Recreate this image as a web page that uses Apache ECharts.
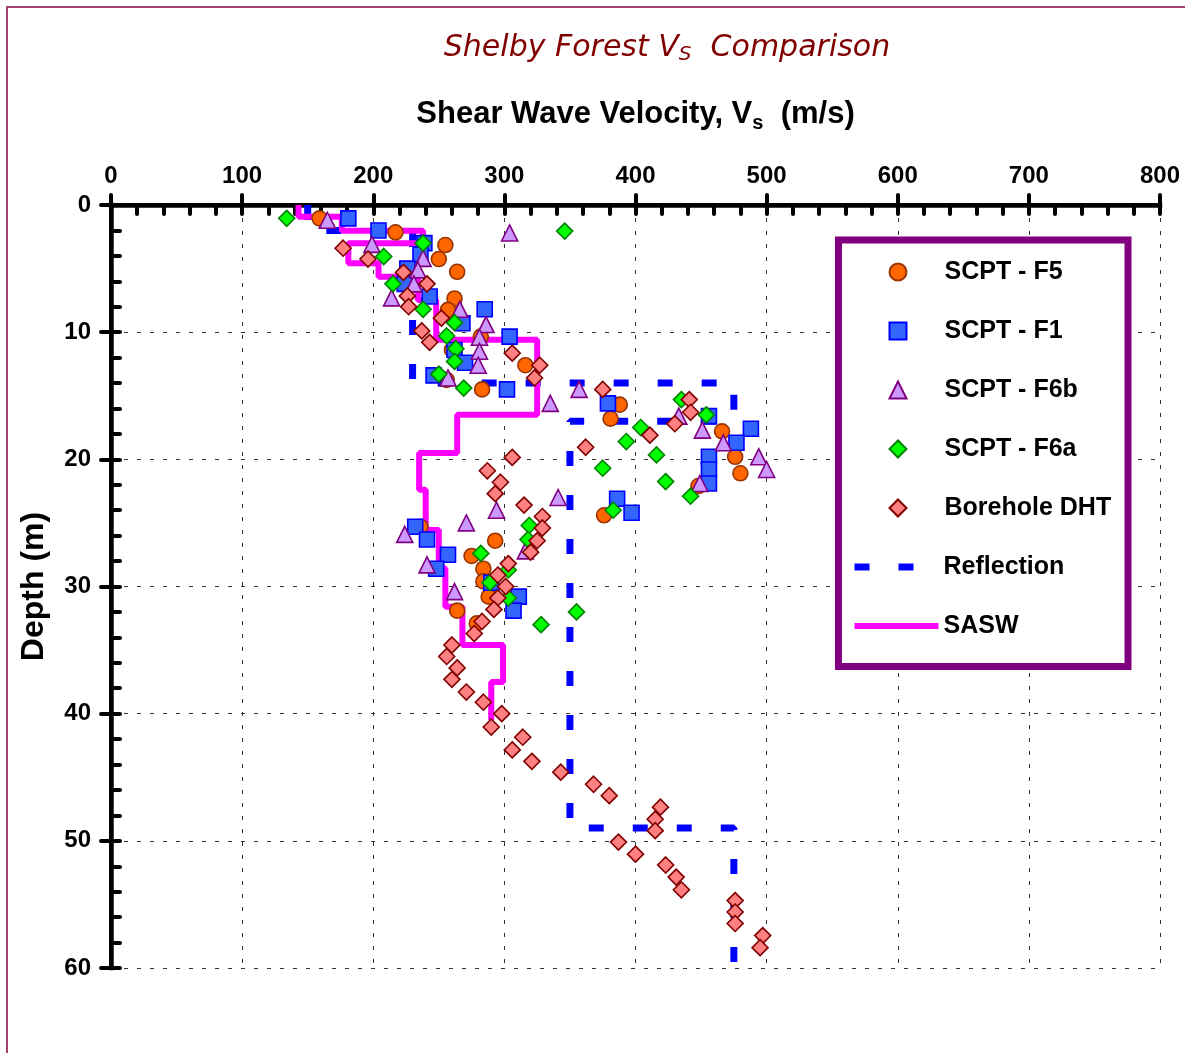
<!DOCTYPE html>
<html><head><meta charset="utf-8">
<script src="https://cdn.jsdelivr.net/npm/echarts@6/dist/echarts.min.js"></script>
<style>html,body{margin:0;padding:0;background:#fff}#c{width:1185px;height:1053px}</style>
</head><body><div id="c"></div>
<script>
// ---- tick labels ----
const velocityTicks = [0, 100, 200, 300, 400, 500, 600, 700, 800];
const depthTicks = [0, 10, 20, 30, 40, 50, 60];

// ---- series names ----
const seriesNames = ['SCPT - F5', 'SCPT - F1', 'SCPT - F6b', 'SCPT - F6a', 'Borehole DHT', 'Reflection', 'SASW'];

// ---- SCPT - F5 ----
const f5Vs = [159,217,255,250,264,262,257,266,282,260,316,256,283,388,381,466,476,480,448,376,236,293,275,284,284,288,264,279];
const f5Depth = [1.05,2.15,3.15,4.25,5.25,7.35,8.25,9.3,10.35,11.4,12.6,13.75,14.5,15.7,16.8,17.8,19.8,21.1,22.1,24.4,25.3,26.4,27.6,28.6,29.6,30.8,31.9,32.9];

// ---- SCPT - F1 ----
const f1Vs = [181,204,239,236,226,224,243,285,268,304,262,270,246,302,379,456,488,477,456,456,456,386,397,232,241,257,248,290,311,307];
const f1Depth = [1.05,2.0,3.0,3.9,5.0,6.2,7.2,8.2,9.3,10.35,11.4,12.4,13.4,14.5,15.6,16.6,17.6,18.7,19.8,20.8,21.9,23.1,24.2,25.3,26.3,27.5,28.6,29.7,30.8,31.9];

// ---- SCPT - F6b ----
const f6bVs = [165,304,199,238,234,231,214,266,286,281,281,280,257,357,335,433,451,467,494,500,449,341,294,271,224,316,241,262];
const f6bDepth = [1.2,2.2,3.1,4.2,5.1,6.2,7.3,8.2,9.4,10.4,11.5,12.6,13.6,14.5,15.6,16.6,17.7,18.7,19.8,20.8,21.9,23.0,24.0,25.0,25.9,27.2,28.3,30.4];

// ---- SCPT - F6a ----
const f6aVs = [134,346,238,208,215,238,262,256,263,262,250,269,435,454,404,393,416,375,423,442,383,319,318,282,303,289,303,355,328];
const f6aDepth = [1.05,2.05,3.0,4.05,6.2,8.2,9.25,10.3,11.3,12.3,13.3,14.4,15.3,16.5,17.5,18.6,19.65,20.7,21.75,22.9,24.0,25.2,26.3,27.4,28.7,29.7,30.9,32.0,33.0];

// ---- Borehole DHT ----
const dhtVs = [177,196,223,241,226,227,252,237,243,306,327,323,375,441,442,430,411,362,306,287,297,293,315,329,329,325,320,303,295,301,295,292,283,277,260,256,264,260,271,284,298,290,314,306,321,343,368,380,419,415,415,387,400,423,431,435,476,476,476,497,495];
const dhtDepth = [3.4,4.25,5.3,6.2,7.15,8.0,8.9,9.9,10.8,11.65,12.6,13.6,14.5,15.3,16.3,17.2,18.1,19.05,19.85,20.9,21.8,22.7,23.6,24.5,25.4,26.4,27.3,28.2,29.1,30.0,30.9,31.8,32.75,33.7,34.6,35.5,36.4,37.3,38.3,39.1,40.0,41.05,41.85,42.85,43.75,44.6,45.55,46.45,47.35,48.3,49.2,50.1,51.05,51.9,52.85,53.85,54.7,55.6,56.5,57.45,58.4];

// ---- Reflection profile (vertices) ----
const reflVs = [150,150,230,230,475,475,350,350,475,475];
const reflDepth = [0,2,2,14,14,17,17,49,49,60];

// ---- SASW profile (vertices) ----
const saswVs = [143,143,176,176,238,238,181,181,204,204,234,234,248,248,325,325,264,264,235,235,240,240,250,250,255,255,268,268,299,299,290,290];
const saswDepth = [0,0.92,0.92,2.02,2.02,3.01,3.01,4.58,4.58,5.64,5.64,7.47,7.47,10.6,10.6,16.5,16.5,19.5,19.5,22.4,22.4,25.55,25.55,28.56,28.56,31.6,31.6,34.6,34.6,37.5,37.5,40.5];

const pair = (xs, ys) => xs.map((v, i) => [v, ys[i]]);

const FONT = "'Liberation Sans', Arial, sans-serif";
const TFONT = "'DejaVu Sans', Verdana, sans-serif";
const vMin = velocityTicks[0], vMax = velocityTicks[velocityTicks.length - 1], vInt = velocityTicks[1] - velocityTicks[0];
const dMin = depthTicks[0], dMax = depthTicks[depthTicks.length - 1], dInt = depthTicks[1] - depthTicks[0];

const tickStyle = { color: '#000', width: 4, cap: 'round' };
const labelStyle = { color: '#000', fontFamily: FONT, fontWeight: 'bold', fontSize: 24 };
const gridDash = { color: '#333', width: 1, type: [4, 9] };
const legendText = { fontFamily: FONT, fontWeight: 'bold', fontSize: 25, color: '#000', lineHeight: 26 };

function scatter(name, xs, ys, symbol, size, fill, stroke) {
  return {
    name, type: 'scatter', xAxisIndex: 0, yAxisIndex: 0,
    data: pair(xs, ys), symbol, symbolSize: size,
    itemStyle: { color: fill, borderColor: stroke, borderWidth: 1.6, opacity: 1 },
    emphasis: { disabled: true }, z: 3
  };
}

const hidden = { opacity: 0 };
const chart = echarts.init(document.getElementById('c'), null, { renderer: 'canvas' });
chart.setOption({
  animation: false,
  backgroundColor: '#fff',
  title: [{
    text: '{a|Shelby Forest V}{s|S}{a|  Comparison}',
    left: 667, top: 31, padding: 0, textAlign: 'center',
    textStyle: {
      fontWeight: 'normal',
      rich: {
        a: { fontFamily: TFONT, fontStyle: 'italic', fontWeight: 'normal', fontSize: 30, color: '#800000', lineHeight: 34 },
        s: { fontFamily: TFONT, fontStyle: 'italic', fontWeight: 'normal', fontSize: 20, color: '#800000', lineHeight: 14, verticalAlign: 'bottom' }
      }
    }
  }],
  grid: { left: 111, top: 205, right: 25, bottom: 85, containLabel: false, outerBoundsMode: 'none' },
  xAxis: [
    {
      type: 'value', position: 'top', min: vMin, max: vMax, interval: vInt,
      name: '{a|Shear Wave Velocity, V}{s|s}{a|  (m/s)}',
      nameLocation: 'middle', nameGap: 72,
      nameTextStyle: {
        rich: {
          a: { fontFamily: FONT, fontWeight: 'bold', fontSize: 31, color: '#000', lineHeight: 38 },
          s: { fontFamily: FONT, fontWeight: 'bold', fontSize: 20, color: '#000', lineHeight: 13, verticalAlign: 'bottom' }
        }
      },
      axisLine: { show: true, lineStyle: { color: '#000', width: 4, cap: 'square' } },
      axisTick: { show: true, inside: true, length: 9, lineStyle: tickStyle },
      minorTick: { show: true, splitNumber: 5, length: 9, lineStyle: tickStyle },
      axisLabel: Object.assign({ margin: 17 }, labelStyle),
      splitLine: { show: true, lineStyle: gridDash },
      minorSplitLine: { show: false }
    },
    {
      type: 'value', position: 'top', min: vMin, max: vMax, interval: vInt,
      axisLine: { show: false },
      axisTick: { show: true, inside: false, length: 10, lineStyle: tickStyle },
      axisLabel: { show: false }, splitLine: { show: false }
    },
    {
      type: 'value', position: 'bottom', min: vMin, max: vMax, interval: vInt,
      axisLine: { show: true, lineStyle: { color: '#000', width: 4.5, cap: 'square' } },
      axisTick: { show: false }, axisLabel: { show: false }, splitLine: { show: false }
    }
  ],
  yAxis: [
    {
      type: 'value', position: 'left', inverse: true, min: dMin, max: dMax, interval: dInt,
      name: 'Depth (m)', nameLocation: 'middle', nameGap: 59, nameRotate: 90,
      nameTextStyle: { fontFamily: FONT, fontWeight: 'bold', fontSize: 32, color: '#000', lineHeight: 36 },
      axisLine: { show: true, lineStyle: { color: '#000', width: 4, cap: 'square' } },
      axisTick: { show: true, inside: true, length: 9, lineStyle: tickStyle },
      minorTick: { show: true, splitNumber: 5, length: 9, lineStyle: tickStyle },
      axisLabel: Object.assign({ margin: 20 }, labelStyle),
      splitLine: { show: true, lineStyle: gridDash }
    },
    {
      type: 'value', position: 'left', inverse: true, min: dMin, max: dMax, interval: dInt,
      axisLine: { show: false },
      axisTick: { show: true, inside: false, length: 10, lineStyle: tickStyle },
      axisLabel: { show: false }, splitLine: { show: false }
    },
    {
      type: 'value', position: 'right', inverse: true, min: dMin, max: dMax, interval: dInt,
      axisLine: { show: true, lineStyle: { color: '#000', width: 4.5, cap: 'square' } },
      axisTick: { show: false }, axisLabel: { show: false }, splitLine: { show: false }
    }
  ],
  legend: [
    {
      orient: 'vertical', left: 888.5, top: 259, padding: 0,
      itemWidth: 17, itemHeight: 17, itemGap: 33, selectedMode: false,
      textStyle: Object.assign({ padding: [0, 0, 0, 33] }, legendText),
      data: seriesNames.slice(0, 5),
      z: 10
    },
    {
      orient: 'vertical', left: 851, top: 259 + 5 * 59, padding: 0,
      itemWidth: 84, itemHeight: 16, itemGap: 33, selectedMode: false,
      textStyle: legendText,
      data: [
        { name: seriesNames[5], lineStyle: { width: 7 }, itemStyle: hidden },
        { name: seriesNames[6], lineStyle: { width: 6 }, itemStyle: hidden }
      ],
      z: 10
    }
  ],
  graphic: [
    { type: 'rect', z: -10, silent: true, shape: { x: 7, y: 7, width: 1400, height: 1300 }, style: { fill: 'none', stroke: '#a3426f', lineWidth: 2 } },
    { type: 'rect', z: 8, silent: true, shape: { x: 838.5, y: 240, width: 289.5, height: 426.5 }, style: { fill: '#fff', stroke: '#800080', lineWidth: 7 } }
  ],
  series: [
    {
      name: seriesNames[5], type: 'line', xAxisIndex: 0, yAxisIndex: 0,
      data: pair(reflVs, reflDepth), symbol: 'none', showSymbol: false,
      lineStyle: { color: '#0000ff', width: 7, type: [15, 29], cap: 'butt' },
      itemStyle: { color: '#0000ff' }, emphasis: { disabled: true }, z: 2
    },
    {
      name: seriesNames[6], type: 'line', xAxisIndex: 0, yAxisIndex: 0,
      data: pair(saswVs, saswDepth), symbol: 'none', showSymbol: false,
      lineStyle: { color: '#ff00ff', width: 6 },
      itemStyle: { color: '#ff00ff' }, emphasis: { disabled: true }, z: 2
    },
    scatter(seriesNames[0], f5Vs, f5Depth, 'circle', 15, '#ff6600', '#993300'),
    scatter(seriesNames[1], f1Vs, f1Depth, 'rect', 15, '#3366ff', '#0000ff'),
    scatter(seriesNames[2], f6bVs, f6bDepth, 'triangle', 16, '#cc99ff', '#800080'),
    scatter(seriesNames[3], f6aVs, f6aDepth, 'diamond', 16, '#00ff00', '#008000'),
    scatter(seriesNames[4], dhtVs, dhtDepth, 'diamond', 16, '#ff8080', '#800000')
  ]
});
</script>
</body></html>
